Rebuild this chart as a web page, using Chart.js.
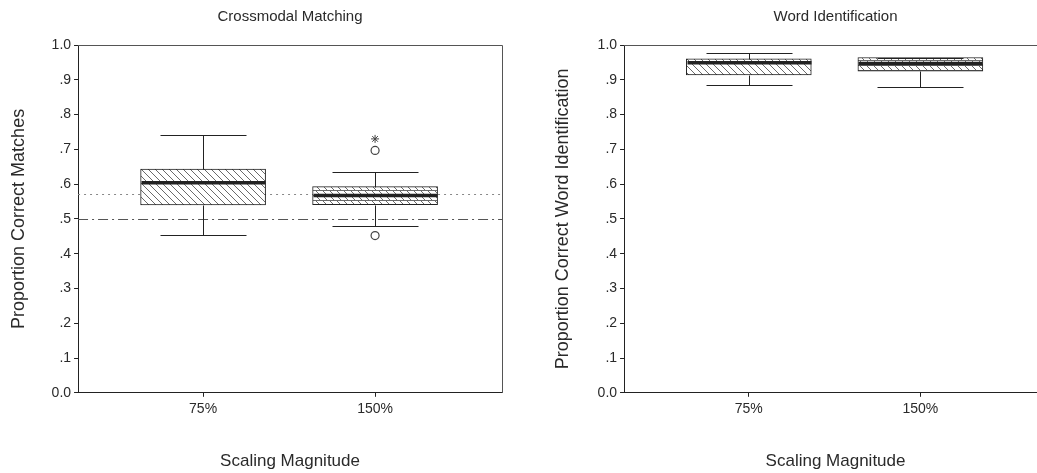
<!DOCTYPE html>
<html>
<head>
<meta charset="utf-8">
<script src="https://cdn.jsdelivr.net/npm/chart.js@4.4.1/dist/chart.umd.min.js"></script>
<style>
  html, body { margin: 0; padding: 0; background: #fff; overflow: hidden; }
  #wrap { position: relative; width: 1037px; height: 473px; overflow: hidden; }
  canvas { position: absolute; top: 0; }
  #leftChart { left: 0; }
  #rightChart { left: 530px; }
</style>
</head>
<body>
<div id="wrap">
  <canvas id="leftChart" width="530" height="473"></canvas>
  <canvas id="rightChart" width="530" height="473"></canvas>
</div>
<script>
// Categories (scaling magnitude)
const categories = ['75%', '150%'];

// Crossmodal Matching - box plot statistics
const cmMin = [0.455, 0.480];
const cmQ1 = [0.540, 0.541];
const cmMedian = [0.604, 0.567];
const cmQ3 = [0.643, 0.593];
const cmMax = [0.741, 0.635];
const cmOutliers = [[], [0.697, 0.452]];
const cmExtremes = [[], [0.730]];
const cmDotted = 0.573;   // dotted reference line
const cmChance = 0.5;     // dash-dot chance line

// Word Identification - box plot statistics
const wiMin = [0.885, 0.878];
const wiQ1 = [0.914, 0.925];
const wiMedian = [0.949, 0.947];
const wiQ3 = [0.960, 0.964];
const wiMax = [0.977, 0.964];

// Y tick labels
const yTickLabels = ['0.0', '.1', '.2', '.3', '.4', '.5', '.6', '.7', '.8', '.9', '1.0'];

const FONT = "'Liberation Sans', Arial, sans-serif";
const INK = '#222';
const TXT = '#2a2a2a';

// Hatch patterns
function hatchWide() {
    const c = document.createElement('canvas');
    c.width = c.height = 7;
    const g = c.getContext('2d');
    g.fillStyle = '#fff';
    g.fillRect(0, 0, 7, 7);
    g.strokeStyle = '#6a6a6a';
    g.lineWidth = 1;
    g.beginPath();
    g.moveTo(-1, -1); g.lineTo(8, 8);
    g.moveTo(6, -1); g.lineTo(8, 1);
    g.moveTo(-1, 6); g.lineTo(1, 8);
    g.stroke();
    return g.createPattern(c, 'repeat');
}
function hatchDense() {
    const c = document.createElement('canvas');
    c.width = 7; c.height = 5;
    const g = c.getContext('2d');
    g.fillStyle = '#fff';
    g.fillRect(0, 0, 7, 5);
    g.strokeStyle = '#6a6a6a';
    g.lineWidth = 1;
    g.beginPath();
    g.moveTo(0, 0.5); g.lineTo(7, 0.5);
    g.moveTo(1, 1); g.lineTo(5, 5);
    g.stroke();
    return g.createPattern(c, 'repeat');
}

// Whiskers, medians, reference lines and plot frame
const boxPlugin = {
    id: 'boxExtras',
    beforeDatasetsDraw(chart, args, opts) {
        const { ctx, chartArea: a, scales: { y } } = chart;
        ctx.save();
        (opts.refLines || []).forEach((r) => {
            const py = Math.round(y.getPixelForValue(r.value)) + 0.5;
            ctx.strokeStyle = r.color;
            ctx.lineWidth = 1;
            ctx.setLineDash(r.dash);
            ctx.beginPath();
            ctx.moveTo(a.left, py);
            ctx.lineTo(a.right, py);
            ctx.stroke();
        });
        ctx.restore();
    },
    afterDatasetsDraw(chart, args, opts) {
        const { ctx, chartArea: a, scales: { x, y } } = chart;
        const s = opts.stats;
        const px = (v) => Math.round(y.getPixelForValue(v)) + 0.5;
        ctx.save();
        ctx.strokeStyle = INK;
        s.median.forEach((m, i) => {
            const cx = Math.round(x.getPixelForValue(i + 1)) + 0.5;
            ctx.lineWidth = 1;
            ctx.beginPath();
            // whiskers
            ctx.moveTo(cx, px(s.q3[i])); ctx.lineTo(cx, px(s.max[i]));
            ctx.moveTo(cx, px(s.q1[i])); ctx.lineTo(cx, px(s.min[i]));
            // caps
            ctx.moveTo(cx - 43, px(s.max[i])); ctx.lineTo(cx + 43, px(s.max[i]));
            ctx.moveTo(cx - 43, px(s.min[i])); ctx.lineTo(cx + 43, px(s.min[i]));
            ctx.stroke();
            // median
            ctx.lineWidth = 3.5;
            ctx.beginPath();
            ctx.moveTo(cx - 62, y.getPixelForValue(m));
            ctx.lineTo(cx + 62, y.getPixelForValue(m));
            ctx.stroke();
        });
        // top and right frame
        ctx.lineWidth = 1;
        ctx.strokeStyle = '#555';
        ctx.beginPath();
        ctx.moveTo(Math.round(a.left), Math.round(a.top) + 0.5);
        ctx.lineTo(Math.round(a.right) + 0.5, Math.round(a.top) + 0.5);
        ctx.lineTo(Math.round(a.right) + 0.5, Math.round(a.bottom));
        ctx.stroke();
        ctx.restore();
    }
};

function toPoints(lists) {
    const pts = [];
    lists.forEach((vals, i) => vals.forEach((v) => pts.push({ x: i + 1, y: v })));
    return pts;
}

function buildChart(el, p) {
    const datasets = [
        {
            type: 'bar',
            data: categories.map((c, i) => ({ x: i + 1, y: [p.q1[i], p.q3[i]] })),
            backgroundColor: [hatchWide(), hatchDense()],
            borderColor: INK,
            borderWidth: 1,
            borderSkipped: false,
            barThickness: 125
        }
    ];
    if (p.outliers) {
        datasets.push({
            type: 'scatter',
            data: toPoints(p.outliers),
            pointStyle: 'circle',
            pointRadius: 4,
            backgroundColor: '#fff',
            borderColor: '#444',
            borderWidth: 1.2
        });
        datasets.push({
            type: 'scatter',
            data: toPoints(p.extremes),
            pointStyle: 'star',
            pointRadius: 4,
            borderColor: '#444',
            borderWidth: 1
        });
    }

    return new Chart(el, {
        type: 'bar',
        data: { datasets },
        plugins: [boxPlugin],
        options: {
            responsive: false,
            animation: false,
            layout: { padding: { left: 2, right: p.padRight, top: 0, bottom: 1 } },
            plugins: {
                legend: { display: false },
                tooltip: { enabled: false },
                title: {
                    display: true,
                    text: p.title,
                    fullSize: false,
                    color: TXT,
                    font: { family: FONT, size: 15, weight: 'normal' },
                    padding: { top: 8, bottom: 19 }
                },
                boxExtras: { stats: p, refLines: p.refLines }
            },
            scales: {
                x: {
                    type: 'linear',
                    min: 0.273,
                    max: 2.738,
                    offset: false,
                    afterBuildTicks: (scale) => {
                        scale.ticks = categories.map((c, i) => ({ value: i + 1 }));
                    },
                    ticks: {
                        autoSkip: false,
                        padding: 4,
                        color: TXT,
                        font: { family: FONT, size: 14 },
                        callback: (v) => categories[Math.round(v) - 1]
                    },
                    grid: { display: true, offset: false, drawOnChartArea: false, tickLength: 4, color: INK },
                    border: { display: true, color: INK },
                    title: {
                        display: true,
                        text: 'Scaling Magnitude',
                        color: TXT,
                        font: { family: FONT, size: 17 },
                        padding: { top: 30, bottom: 0 }
                    }
                },
                y: {
                    min: 0,
                    max: 1,
                    ticks: {
                        stepSize: 0.1,
                        padding: 3,
                        color: TXT,
                        font: { family: FONT, size: 14 },
                        callback: (v) => yTickLabels[Math.round(v * 10)]
                    },
                    grid: { display: true, drawOnChartArea: false, tickLength: 4, color: INK },
                    border: { display: true, color: INK },
                    title: {
                        display: true,
                        text: p.yTitle,
                        color: TXT,
                        font: { family: FONT, size: 18 },
                        padding: { top: p.yTitleTop, bottom: p.yTitleBottom }
                    }
                }
            }
        }
    });
}

buildChart(document.getElementById('leftChart'), {
    title: 'Crossmodal Matching',
    yTitle: 'Proportion Correct Matches',
    min: cmMin, q1: cmQ1, median: cmMedian, q3: cmQ3, max: cmMax,
    outliers: cmOutliers, extremes: cmExtremes,
    refLines: [
        { value: cmDotted, color: '#888', dash: [2, 4] },
        { value: cmChance, color: '#555', dash: [10, 4, 2, 4] }
    ],
    padRight: 28, yTitleTop: 6, yTitleBottom: 19
});

buildChart(document.getElementById('rightChart'), {
    title: 'Word Identification',
    yTitle: 'Proportion Correct Word Identification',
    min: wiMin, q1: wiQ1, median: wiMedian, q3: wiQ3, max: wiMax,
    refLines: [],
    padRight: 13, yTitleTop: 20, yTitleBottom: 21
});
</script>
</body>
</html>
